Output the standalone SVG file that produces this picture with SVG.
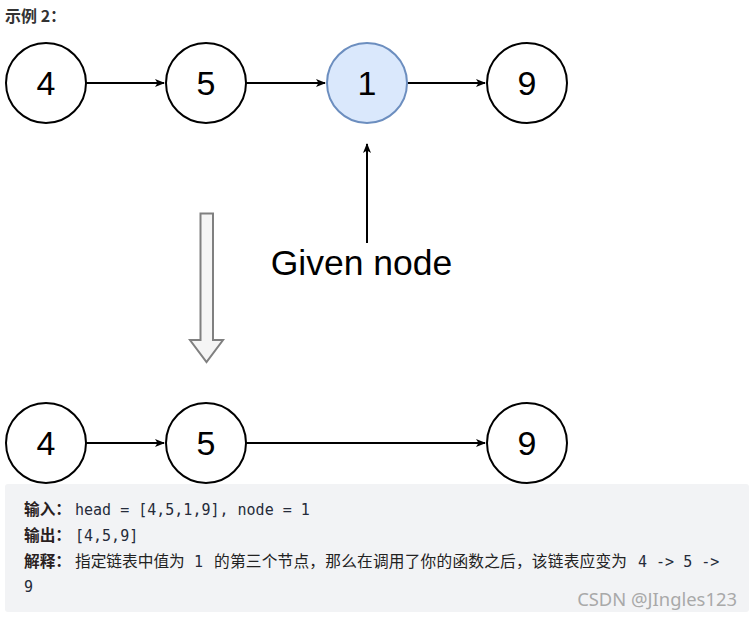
<svg xmlns="http://www.w3.org/2000/svg" width="755" height="619" viewBox="0 0 755 619">
<defs>
<marker id="ah" markerWidth="10" markerHeight="10" refX="9" refY="5" orient="auto" markerUnits="userSpaceOnUse">
<path d="M0,1 L10,5 L0,9 L2.5,5 Z" fill="#000"/>
</marker>
<style>
.n{fill:#fff;stroke:#000;stroke-width:2}
.g{fill:#dae8fc;stroke:#6c8ebf;stroke-width:2}
.t{font-family:"Liberation Sans",Arial,sans-serif;font-size:34px;text-anchor:middle;fill:#000}
.c{stroke:#000;stroke-width:2;fill:none}
.cn{font-family:"Noto Sans CJK SC",sans-serif;font-size:15.7px;fill:#222}
.b{font-weight:bold;fill:#2a1f1f}
.m{font-family:"DejaVu Sans Mono","Liberation Mono",monospace;font-size:15px;fill:#252b3a}
</style>
</defs>
<rect width="755" height="619" fill="#fff"/>
<text x="5" y="22" font-family="'Noto Sans CJK SC',sans-serif" font-size="16" font-weight="bold" fill="#333">示例 2：</text>
<g id="connectors">
<line class="c" x1="86" y1="83" x2="164" y2="83" marker-end="url(#ah)"/>
<line class="c" x1="246" y1="83" x2="325" y2="83" marker-end="url(#ah)"/>
<line class="c" x1="407" y1="83" x2="485" y2="83" marker-end="url(#ah)"/>
<line class="c" x1="367" y1="243" x2="367" y2="144" marker-end="url(#ah)"/>
<line class="c" x1="86" y1="443" x2="164" y2="443" marker-end="url(#ah)"/>
<line class="c" x1="246" y1="443" x2="485" y2="443" marker-end="url(#ah)"/>
</g>
<g id="n4"><circle class="n" cx="46" cy="83" r="40"/><text class="t" x="46" y="95">4</text></g>
<g id="n5"><circle class="n" cx="206" cy="83" r="40"/><text class="t" x="206" y="95">5</text></g>
<g id="n1"><circle class="g" cx="367" cy="83" r="40"/><text class="t" x="367" y="95">1</text></g>
<g id="n9"><circle class="n" cx="527" cy="83" r="40"/><text class="t" x="527" y="95">9</text></g>
<g id="label"><text class="t" x="361.5" y="275" style="font-size:35.5px">Given node</text></g>
<g id="bigarrow"><path d="M200.5,213.5 H213 V340 H223 L206.5,362 L190,340 H200.5 Z" fill="#f5f5f5" stroke="#808080" stroke-width="2"/></g>
<g id="m4"><circle class="n" cx="46" cy="443" r="40"/><text class="t" x="46" y="455">4</text></g>
<g id="m5"><circle class="n" cx="206" cy="443" r="40"/><text class="t" x="206" y="455">5</text></g>
<g id="m9"><circle class="n" cx="527" cy="443" r="40"/><text class="t" x="527" y="455">9</text></g>
<g id="box">
<rect x="5" y="484" width="744" height="128" rx="3" fill="#f2f3f5"/>
<text class="cn" y="515"><tspan class="b" x="24">输入：</tspan><tspan class="m" x="75">head = [4,5,1,9], node = 1</tspan></text>
<text class="cn" y="541"><tspan class="b" x="24">输出：</tspan><tspan class="m" x="75">[4,5,9]</tspan></text>
<text class="cn" y="567"><tspan class="b" x="24">解释：</tspan><tspan x="75">指定链表中值为</tspan><tspan class="m" x="194">1</tspan><tspan x="214" textLength="413" lengthAdjust="spacing">的第三个节点，那么在调用了你的函数之后，该链表应变为</tspan><tspan class="m" x="638">4 -&gt; 5 -&gt;</tspan></text>
<text class="m" x="24" y="592">9</text>
<text x="737" y="606" text-anchor="end" font-family="Noto Sans,sans-serif" font-size="18.4" fill="#a9a9a9">CSDN @JIngles123</text>
</g>
</svg>
